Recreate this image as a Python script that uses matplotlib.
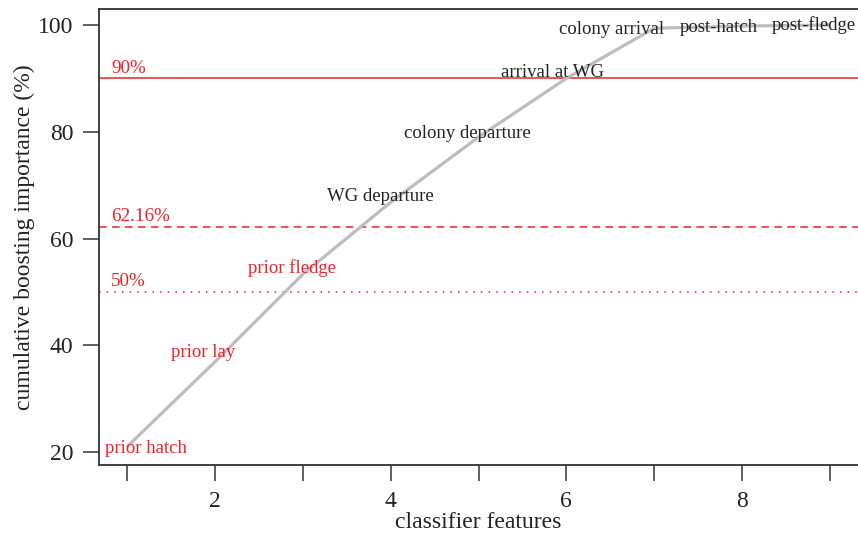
import numpy as np
import matplotlib.pyplot as plt

# valores
features = [1, 2, 3, 4, 5, 6, 7, 8, 9]
cum_importance = [21.0, 36.9, 53.3, 66.8, 79.0, 90.0, 99.4, 99.8, 100.0]
feature_names = ['prior hatch', 'prior lay', 'prior fledge', 'WG departure',
                 'colony departure', 'arrival at WG', 'colony arrival',
                 'post-hatch', 'post-fledge']
name_colors = ['red', 'red', 'red', 'black', 'black', 'black', 'black', 'black', 'black']
# deslocamento dos rótulos em relação ao ponto (pixels)
label_offsets = [(19, -2), (-12, 9), (-11, 6), (-10, 6), (-11, 4), (-14, 6),
                 (-43, -1), (-23, -1), (-16, 0)]

thresholds = [90, 62.16, 50]
threshold_labels = ['90%', '62.16%', '50%']
threshold_styles = ['-', (0, (5, 3.5)), (0, (1, 4))]

RED = '#ee2028'
INK = '#222222'
plt.rcParams['font.family'] = ['Liberation Serif', 'DejaVu Serif']

fig = plt.figure(figsize=(8.58, 5.37), dpi=100)
ax = fig.add_axes([99 / 858, 72 / 537, 1 - 99 / 858, (465 - 9) / 537])

ax.plot(features, cum_importance, color='#bdbdbd', linewidth=2.3, solid_capstyle='butt', zorder=2)

for y, lab, ls in zip(thresholds, threshold_labels, threshold_styles):
    ax.axhline(y, color=RED, linestyle=ls, linewidth=1.1, zorder=1)
    ax.annotate(lab, xy=(0.82, y), xytext=(0, 10), textcoords='offset pixels',
                ha='left', va='center', color=RED, fontsize=13.7)

for x, y, name, c, off in zip(features, cum_importance, feature_names, name_colors, label_offsets):
    ax.annotate(name, xy=(x, y), xytext=off, textcoords='offset pixels',
                ha='center', va='center', fontsize=13.5,
                color=RED if c == 'red' else INK, zorder=3)

ax.set_xlim(0.68, 9.32)
ax.set_ylim(17.57, 103.0)
ax.set_xticks(features)
ax.set_xticklabels(['' if x % 2 else str(x) for x in features])
ax.set_yticks([20, 40, 60, 80, 100])

for s in ['left', 'top', 'bottom']:
    ax.spines[s].set_color('#333333')
    ax.spines[s].set_linewidth(1.3)
ax.spines['right'].set_visible(False)
ax.tick_params(direction='out', length=11.5, width=1.1, color='#333333',
               labelsize=17, labelcolor=INK, pad=7)

ax.set_xlabel('classifier features', fontsize=17, color=INK, labelpad=0)
ax.set_ylabel('cumulative boosting importance (%)', fontsize=17, color=INK, labelpad=2)

fig.savefig('out.png', dpi=100)
